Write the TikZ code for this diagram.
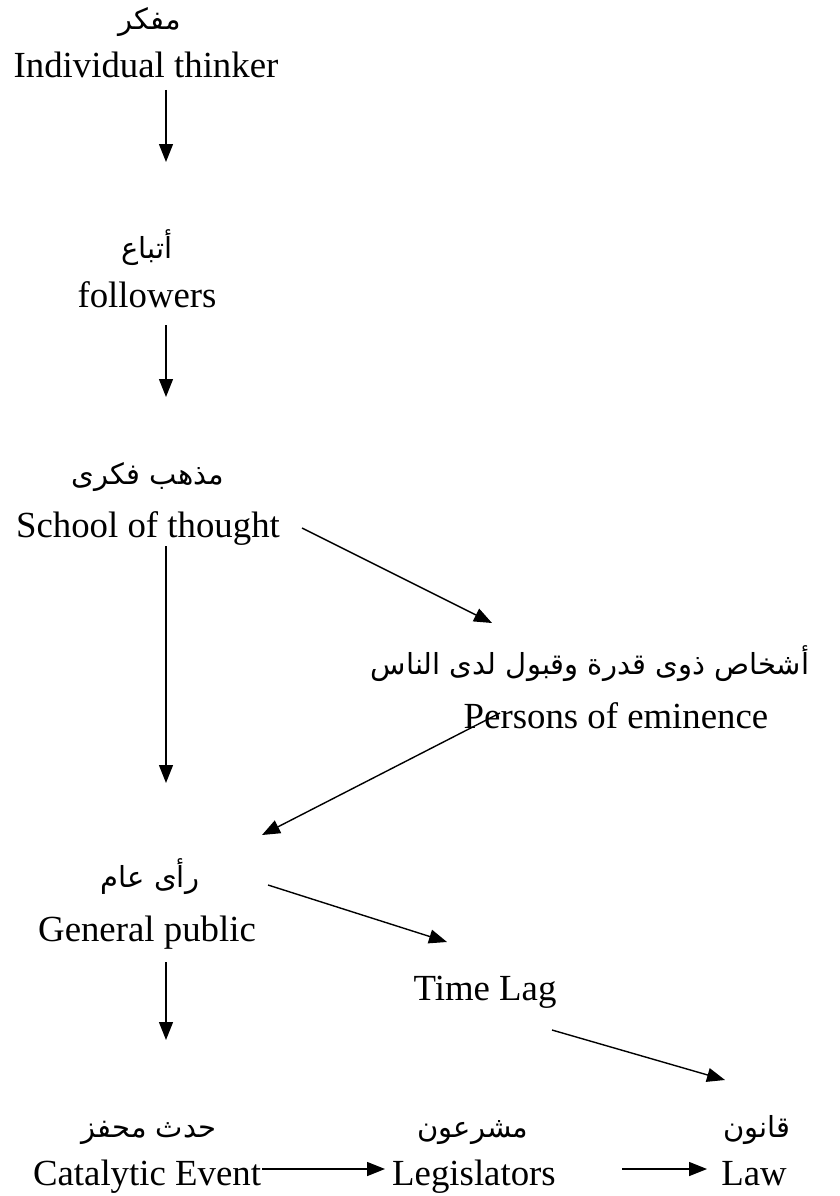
\documentclass[tikz,border=0pt]{standalone}
\usepackage{fontspec}
\setmainfont{Liberation Serif}
\newfontfamily\arabicfont[Script=Arabic]{DejaVu Sans}
\TeXXeTstate=1
\usetikzlibrary{arrows.meta,positioning}

\begin{document}
\begin{tikzpicture}[x=1pt,y=-1pt,
  every node/.style={inner sep=0pt,anchor=base},
  en/.style={font=\fontsize{36.8}{40}\selectfont},
  ar/.style={font=\fontsize{29}{32}\selectfont\arabicfont},
  arr/.style={-{Triangle[length=18pt,width=14pt]},line width=1.4pt}]
\useasboundingbox (0,0) rectangle (839,1196);
% left column
\node[ar] (thinkerA) at (150,30) {\beginR مفكر\endR};
\node[en] (thinker) at (146,78) {Individual thinker};
\node[ar] (followersA) at (147,258) {\beginR أتباع\endR};
\node[en] (followers) at (147,307) {followers};
\node[ar] (schoolA) at (148,484) {\beginR مذهب فكرى\endR};
\node[en] (school) at (148,537) {School of thought};
\node[ar] (personsA) at (590,674) {\beginR أشخاص ذوى قدرة وقبول لدى الناس\endR};
\node[en] (persons) at (616,728) {Persons of eminence};
\node[ar] (publicA) at (150,887) {\beginR رأى عام\endR};
\node[en] (public) at (147,941) {General public};
\node[en] (timelag) at (485,1000) {Time Lag};
% bottom row
\node[ar] (eventA) at (149,1137) {\beginR حدث محفز\endR};
\node[en] (event) at (147,1185) {Catalytic Event};
\node[ar] (legisA) at (473,1137) {\beginR مشرعون\endR};
\node[en] (legis) at (474,1185) {Legislators};
\node[ar] (lawA) at (757,1137) {\beginR قانون\endR};
\node[en] (law) at (754,1185) {Law};
% arrows
\draw[arr] ([xshift=20pt,yshift=-12pt]thinker.base) -- ([xshift=19pt,yshift=96pt]followersA.base);
\draw[arr] ([xshift=19pt,yshift=-18pt]followers.base) -- ([xshift=18pt,yshift=87pt]schoolA.base);
\draw[arr] ([xshift=18pt,yshift=-9pt]school.base) -- ([xshift=16pt,yshift=104pt]publicA.base);
\draw[arr] ([xshift=154pt,yshift=9pt]school.base) -- ([xshift=-98pt,yshift=51pt]personsA.base);
\draw[arr] ([xshift=-116pt,yshift=15pt]persons.base) -- ([xshift=112pt,yshift=52pt]publicA.base);
\draw[arr] ([xshift=19pt,yshift=-21pt]public.base) -- ([xshift=17pt,yshift=97pt]eventA.base);
\draw[arr] ([xshift=118pt,yshift=2pt]publicA.base) -- ([xshift=-38pt,yshift=58pt]timelag.base);
\draw[arr] ([xshift=67pt,yshift=-30pt]timelag.base) -- ([xshift=-32pt,yshift=57pt]lawA.base);
\draw[arr] ([xshift=115pt,yshift=16pt]event.base) -- ([xshift=-89pt,yshift=16pt]legis.base);
\draw[arr] ([xshift=148pt,yshift=16pt]legis.base) -- ([xshift=-47pt,yshift=16pt]law.base);
\end{tikzpicture}
\end{document}
